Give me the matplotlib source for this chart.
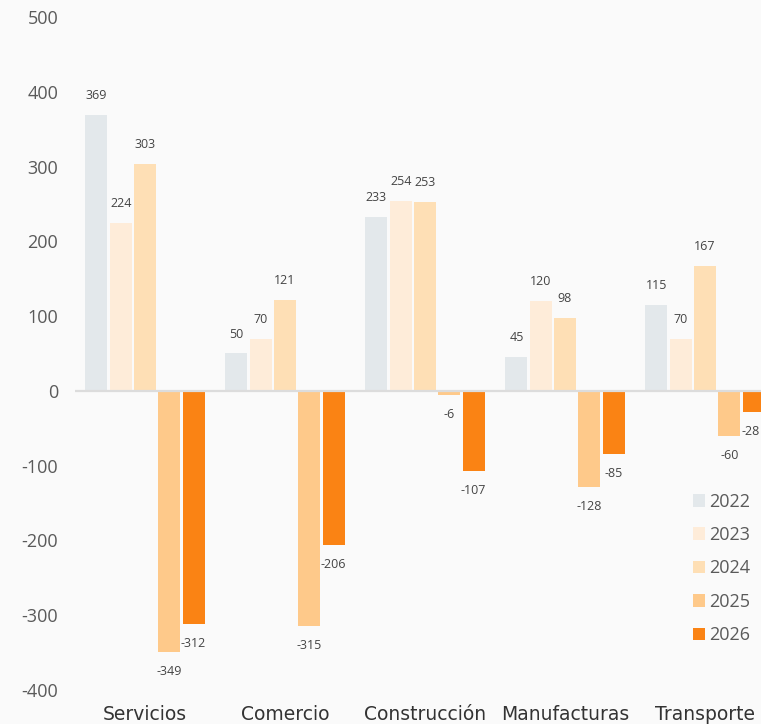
import matplotlib
matplotlib.use("Agg")
import matplotlib.pyplot as plt
import numpy as np

categories = ["Servicios", "Comercio", "Construcción", "Manufacturas", "Transporte"]
years = ["2022", "2023", "2024", "2025", "2026"]
v2022 = [369, 50, 233, 45, 115]
v2023 = [224, 70, 254, 120, 70]
v2024 = [303, 121, 253, 98, 167]
v2025 = [-349, -315, -6, -128, -60]
v2026 = [-312, -206, -107, -85, -28]
series = [v2022, v2023, v2024, v2025, v2026]
colors = ["#e3e8eb", "#feecd9", "#fedfb5", "#fec98a", "#fa8314"]
yticks = [-400, -300, -200, -100, 0, 100, 200, 300, 400, 500]

plt.rcParams['font.family'] = ['Open Sans', 'DejaVu Sans']
W, H = 761, 724
fig = plt.figure(figsize=(W / 100, H / 100), dpi=100, facecolor="#fafafa")
ax = fig.add_axes([75 / W, (H - 690) / H, (761 - 75) / W, (690 - 17) / H])
ax.set_facecolor("#fafafa")

x = np.arange(len(categories))
pitch = 0.1736
width = 0.157
labels = []
for i, (vals, col, yr) in enumerate(zip(series, colors, years)):
    xs = x + (i - 2) * pitch
    ax.bar(xs, vals, width=width, color=col, label=yr, zorder=2)
    for xi, v in zip(xs, vals):
        off = 14 if v >= 0 else -14
        t = ax.annotate(str(v), (xi, v), xytext=(0, off), textcoords="offset points",
                        ha="center", va="center", fontsize=9, color="#444444",
                        annotation_clip=False)
        labels.append(t)

ax.axhline(0, color="#dcdcdc", linewidth=1.6, zorder=3)
ax.set_xlim(-0.5, 4.4)
ax.set_ylim(-400, 500)
ax.set_yticks(yticks)
ax.set_yticklabels([str(t) for t in yticks], fontsize=13, color="#5a5a5a")
ax.set_xticks(x)
ax.set_xticklabels(categories, fontsize=13.5, color="#333333",
                   family=["DejaVu Sans"])
ax.tick_params(axis="both", length=0)
ax.tick_params(axis="y", pad=12)
ax.tick_params(axis="x", pad=10.5)
for s in ax.spines.values():
    s.set_visible(False)

leg = ax.legend(loc="lower right", bbox_to_anchor=(1.0, 0.052), frameon=False,
                fontsize=13, handlelength=0.7, handleheight=0.7, handletextpad=0.2,
                labelspacing=0.85, labelcolor="#5a5a5a", borderaxespad=0.2)

# keep data labels inside the figure
fig.canvas.draw()
r = fig.canvas.get_renderer()
for t in labels:
    bb = t.get_window_extent(r)
    if bb.x1 > W - 1:
        dx = (bb.x1 - (W - 1)) * 72 / 100
        ox, oy = t.xyann
        t.xyann = (ox - dx, oy)

fig.savefig("out.png", dpi=100, facecolor=fig.get_facecolor())
